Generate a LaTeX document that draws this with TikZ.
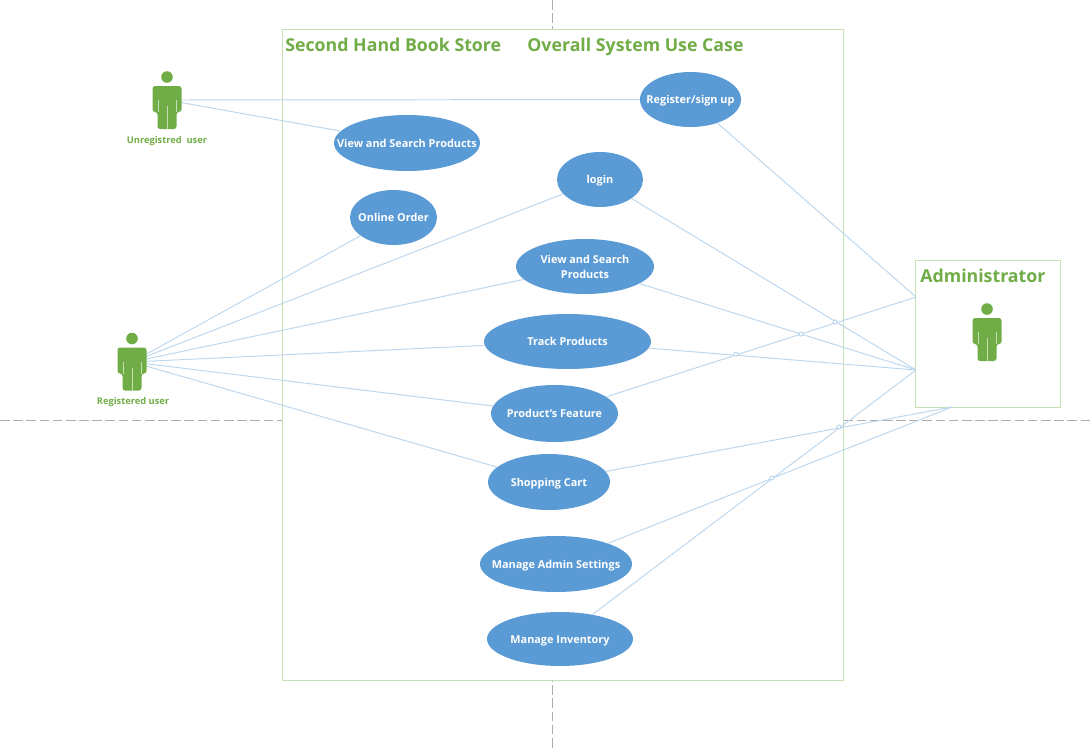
\documentclass[tikz,border=0pt]{standalone}
\usepackage{fontspec}
\setmainfont{Open Sans}
\usetikzlibrary{shapes.geometric}

\definecolor{usecaseblue}{HTML}{5B9BD5}
\definecolor{actorgreen}{HTML}{70AD47}
\definecolor{framegreen}{HTML}{C5E0B4}
\definecolor{linkblue}{HTML}{BDD7EE}
\definecolor{cutgray}{HTML}{ADADAD}

\tikzset{
	usecase/.style={ellipse, fill=usecaseblue, text=white, font=\bfseries\fontsize{6.2}{8.6}\selectfont, align=center, inner xsep=-20pt, inner ysep=-6pt, text height=5pt, text depth=0pt},
	frame/.style={draw=framegreen, fill=white, line width=0.6pt},
	link/.style={draw=linkblue, line width=0.55pt},
	cut/.style={draw=cutgray, line width=0.55pt, dash pattern=on 5.5pt off 2pt},
	actorlabel/.style={text=actorgreen, font=\bfseries\fontsize{5.3}{6}\selectfont, inner sep=0pt},
	frametitle/.style={text=actorgreen, font=\bfseries\fontsize{10.1}{12}\selectfont, anchor=base west, inner sep=0pt},
	person/.pic={
		\fill[actorgreen] (0,0) circle (5.8);
		\fill[actorgreen, rounded corners=1.5pt] (-14.5,35) -- (-14.5,9) -- (14.5,9) -- (14.5,35) -- (9.5,35) -- (9.5,52) -- (-9.5,52) -- (-9.5,35) -- cycle;
		\draw[white, opacity=0.6, line width=0.45pt] (-9,23) -- (-9,35) (9,23) -- (9,35) (0,29) -- (0,52);
	}
}

\begin{document}
\begin{tikzpicture}[x=0.02cm, y=-0.02cm]
	\useasboundingbox (0,0) rectangle (1090,751);

	\draw[cut] (0,420.5) -- (1090,420.5);
	\draw[cut] (552.5,0) -- (552.5,751);
	\node[frame, draw, minimum width=561*0.02cm, minimum height=651*0.02cm, inner sep=0pt, anchor=north west] (system) at (281.5,29) {};
	\node[frame, draw, minimum width=145*0.02cm, minimum height=147*0.02cm, inner sep=0pt, anchor=north west] (adminbox) at (915,260) {};

	\node[frametitle] (title) at (285,51) {Second Hand Book Store};
	\node[frametitle] (subtitle) at (527,51) {Overall System Use Case};
	\node[frametitle] (admintitle) at (920,282) {Administrator};

	\node[usecase, minimum width=101*0.02cm, minimum height=55*0.02cm] (register) at (690.5,99.5) {Register/sign up};
	\node[usecase, minimum width=146*0.02cm, minimum height=56*0.02cm] (viewa) at (407,143) {View and Search Products};
	\node[usecase, minimum width=86*0.02cm, minimum height=55*0.02cm] (login) at (600,179.5) {login};
	\node[usecase, minimum width=87*0.02cm, minimum height=55*0.02cm] (online) at (393.5,217.5) {Online Order};
	\node[usecase, minimum width=138*0.02cm, minimum height=55*0.02cm, text height=13.6pt] (viewb) at (585,266.5) {View and Search\\Products};
	\node[usecase, minimum width=167*0.02cm, minimum height=55*0.02cm] (track) at (567.5,341.5) {Track Products};
	\node[usecase, minimum width=127*0.02cm, minimum height=57*0.02cm] (feature) at (554.5,413.5) {Product's Feature};
	\node[usecase, minimum width=122*0.02cm, minimum height=56*0.02cm] (cart) at (549,482) {Shopping Cart};
	\node[usecase, minimum width=152*0.02cm, minimum height=56*0.02cm] (settings) at (556,564) {Manage Admin Settings};
	\node[usecase, minimum width=146*0.02cm, minimum height=54*0.02cm] (inventory) at (560,639) {Manage Inventory};

	\node[actorlabel] (unreglabel) at (167,141) {Unregistred\ \ user};
	\node[actorlabel] (reglabel) at (133,402) {Registered user};

	\coordinate (unreg) at (167,100);
	\coordinate (reg) at (132,362);
	\coordinate (admintop) at (916,297);
	\coordinate (adminmid) at (916,370);
	\coordinate (adminlow) at (952,407);

	\draw[link] (unreg) -- (register);
	\draw[link] (unreg) -- (viewa);
	\foreach \usecase in {online,login,viewb,track,feature,cart}
		\draw[link] (reg) -- (\usecase);
	\foreach \usecase in {login,viewb,track,inventory}
		\draw[link] (\usecase) -- (adminmid);
	\foreach \usecase in {register,feature}
		\draw[link] (\usecase) -- (admintop);
	\foreach \usecase in {cart,settings}
		\draw[link] (\usecase) -- (adminlow);

	\foreach \hopx/\hopy in {801/334, 835/322, 736/354, 839/427, 772/478}
		\draw[link, fill=white] (\hopx,\hopy) circle (2);

	\pic at (167,77) {person};
	\pic at (132,338.5) {person};
	\pic at (987,309) {person};
\end{tikzpicture}
\end{document}
